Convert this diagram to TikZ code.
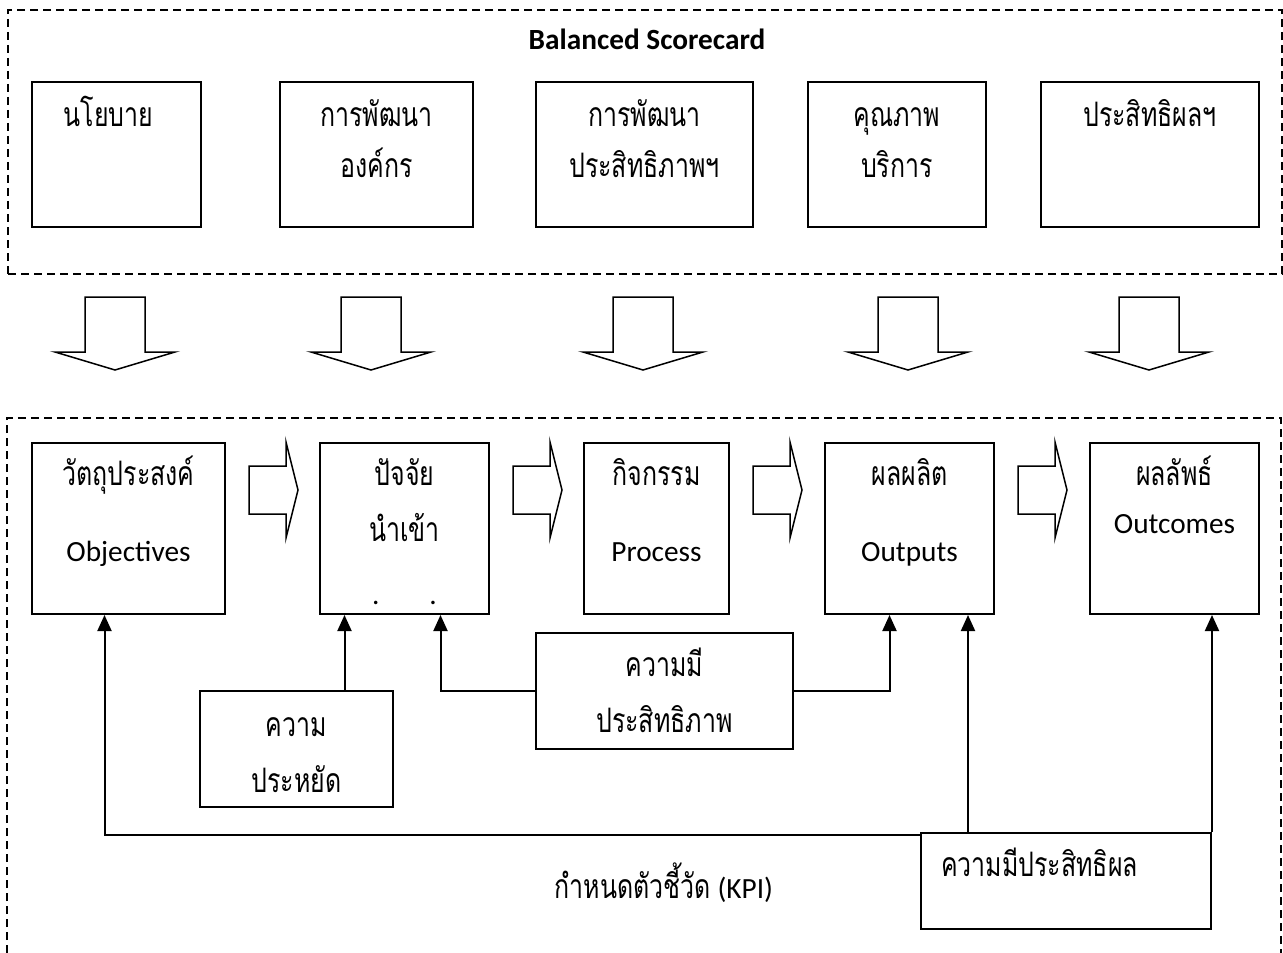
\documentclass[tikz,border=0pt]{standalone}
\usepackage{fontspec}
\setmainfont{Carlito}
\newfontfamily\thai[Script=Thai,Scale=1.15,FakeStretch=0.74]{Loma}
\usetikzlibrary{arrows.meta,positioning}

\newcommand{\bigtext}{\fontsize{29.3}{34}\selectfont\lineskiplimit=-50pt}

\begin{document}
\begin{tikzpicture}[x=1pt,y=-1pt,>={Triangle[length=16pt,width=14pt]},
    frame/.style={draw,line width=2pt,dash pattern=on 8pt off 5pt},
    box/.style={draw,line width=2pt,anchor=north west,inner sep=0pt,align=center,font=\bigtext},
    topbox/.style={box,text height=44pt,text depth=101pt},
    rowbox/.style={box,text height=42pt,text depth=129pt},
    link/.style={line width=2pt},
    fat/.style={draw,line width=1.5pt,fill=white}]
  \useasboundingbox (0,0) rectangle (1283,953);
  % upper part: the scorecard
  \node[frame,anchor=north west,minimum width=1274pt,minimum height=264pt] (bsc) at (7,9) {};
  \node[font=\bigtext\bfseries] (ttl) at (647,39) {Balanced Scorecard};
  \node[topbox,text width=169pt] (pol) at (31,81) {\thai\hspace*{-16pt}นโยบาย};
  \node[topbox,text width=193pt] (org) at (279,81) {\thai การพัฒนา\\[17pt]องค์กร};
  \node[topbox,text width=217pt] (eff) at (535,81) {\thai การพัฒนา\\[17pt]ประสิทธิภาพฯ};
  \node[topbox,text width=178pt] (qual) at (807,81) {\thai คุณภาพ\\[17pt]บริการ};
  \node[topbox,text width=218pt] (res) at (1040,81) {\thai ประสิทธิผลฯ};
  \foreach \x in {115,371,643,908,1149}
    \draw[fat,shift={(\x,297)}] (-30,0) -- (30,0) -- (30,55) -- (60,55) -- (0,73) -- (-60,55) -- (-30,55) -- cycle;
  % lower part: the chain
  \draw[frame] (7,953) |- (1281,418) -- (1281,953);
  \node[rowbox,text width=193pt] (obj) at (31,442) {{\thai วัตถุประสงค์}\\[42pt]Objectives};
  \node[rowbox,text width=169pt] (inp) at (319,442) {{\thai ปัจจัย}\\[22pt]{\thai นำเข้า}\\[29pt].\hspace{50pt}.};
  \node[rowbox,text width=145pt] (proc) at (583,442) {{\thai กิจกรรม}\\[42pt]Process};
  \node[rowbox,text width=169pt] (outp) at (824,442) {{\thai ผลผลิต}\\[42pt]Outputs};
  \node[rowbox,text width=169pt] (outc) at (1089,442) {{\thai ผลลัพธ์}\\[14pt]Outcomes};
  \foreach \a in {obj,inp,proc,outp}
    \draw[fat,shift={(\a.north east)}] (23,24) -- (60,24) -- (60,0) -- (72,48) -- (60,96) -- (60,72) -- (23,72) -- cycle;
  \node[box,text width=193pt,text height=45pt,text depth=71pt] (econ) at (199,690) {\thai ความ\\[22pt]ประหยัด};
  \node[box,text width=257pt,text height=43pt,text depth=73pt] (effi) at (535,632) {\thai ความมี\\[22pt]ประสิทธิภาพ};
  \node[box,text width=250pt,inner xsep=20pt,align=left,text height=43pt,text depth=53pt] (effe) at (920,832) {\thai ความมีประสิทธิผล};
  \node[font=\bigtext,anchor=base] (kpi) at (664,898) {{\thai กำหนดตัวชี้วัด} (KPI)};
  \draw[link,->] ([yshift=-3pt]effe.north west) -| ([xshift=-24pt]obj.south);
  \draw[link,->] ([xshift=48pt]econ.north) -- ([xshift=48pt]econ.north |- inp.south);
  \draw[link,->] (effi.west) -| ([xshift=36pt]inp.south);
  \draw[link,->] (effi.east) -| ([xshift=-20pt]outp.south);
  \draw[link,->] ([xshift=48pt]effe.north west) -- ([xshift=48pt]effe.north west |- outp.south);
  \draw[link,->] (effe.north east) -- (effe.north east |- outc.south);
\end{tikzpicture}
\end{document}
